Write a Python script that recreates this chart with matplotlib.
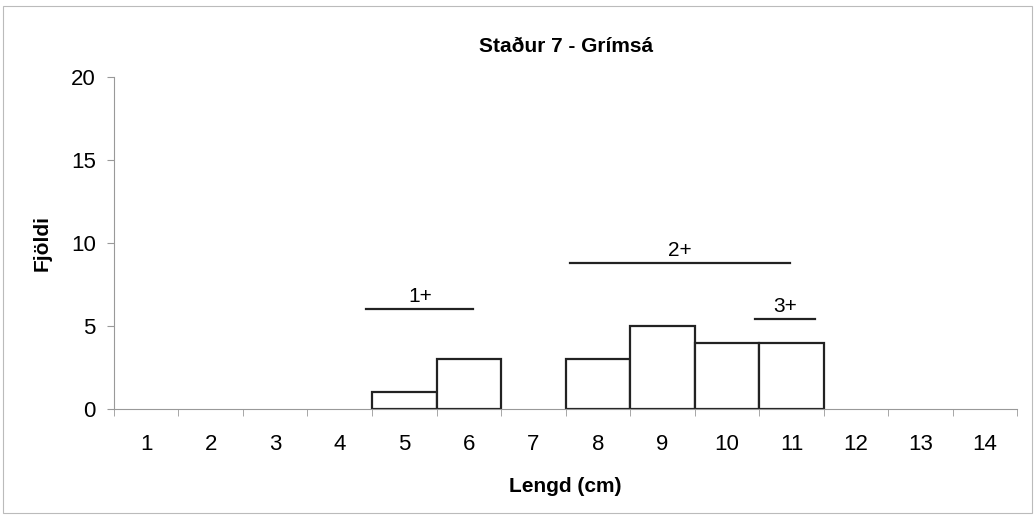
import numpy as np
import matplotlib.pyplot as plt
from matplotlib.patches import Rectangle

plt.rcParams['font.family'] = ['Liberation Sans', 'DejaVu Sans']

# lengdardreifing
lengd = np.arange(1, 15)
fjoldi = np.array([0, 0, 0, 0, 1, 3, 0, 3, 5, 4, 4, 0, 0, 0])

# aldurshopar: (merki, byrjun, endir, hæð)
aldur_merki = ["1+", "2+", "3+"]
aldur_byrjun = [4.41, 7.57, 10.44]
aldur_endir = [6.07, 10.98, 11.37]
aldur_haed = [6.05, 8.8, 5.45]

fig = plt.figure(figsize=(10.35, 5.15), dpi=100)
ax = fig.add_axes([0.110, 0.206, 0.873, 0.644])

synd = fjoldi > 0
ax.bar(lengd[synd], fjoldi[synd], width=1.0, color="white", edgecolor="#222222", linewidth=1.6)

for m, a, b, h in zip(aldur_merki, aldur_byrjun, aldur_endir, aldur_haed):
    ax.plot([a, b], [h, h], color="#222222", linewidth=1.6)
    ax.text((a + b) / 2, h + 0.15, m, ha="center", va="bottom", fontsize=15)

ax.set_xlim(0.5, 14.5)
ax.set_ylim(0, 20)
ax.set_yticks([0, 5, 10, 15, 20])
ax.set_xticks(lengd)
ax.set_xticks(np.arange(0.5, 15, 1), minor=True)
ax.tick_params(axis="x", which="major", length=0, pad=18, labelsize=16)
ax.tick_params(axis="x", which="minor", length=5, color="#999999")
ax.tick_params(axis="y", length=5, color="#999999", labelsize=16, pad=8)

for s in ["top", "right"]:
    ax.spines[s].set_visible(False)
ax.spines["left"].set_color("#999999")
ax.spines["bottom"].set_color("#999999")
ax.spines["left"].set_linewidth(0.8)
ax.spines["bottom"].set_linewidth(0.8)

ax.set_title("Staður 7 - Grímsá", fontsize=15, fontweight="bold", pad=18)
ax.set_xlabel("Lengd (cm)", fontsize=15, fontweight="bold", labelpad=16)
ax.set_ylabel("Fjöldi", fontsize=15, fontweight="bold", labelpad=14)

fig.patches.append(Rectangle((0.003, 0.003), 0.994, 0.985, transform=fig.transFigure,
                             fill=False, edgecolor="#bbbbbb", linewidth=0.8))

fig.savefig("out.png", dpi=100)
